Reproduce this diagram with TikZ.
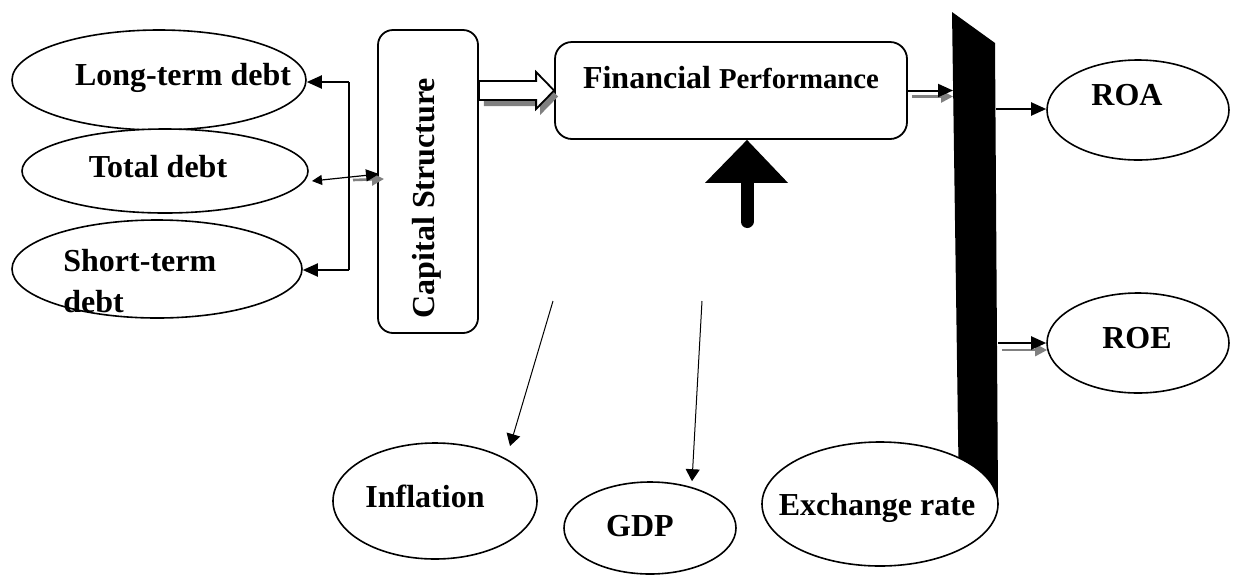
\documentclass[tikz,border=0pt]{standalone}
\usepackage{fontspec}
\setmainfont{Liberation Serif}
\usetikzlibrary{arrows.meta,shapes.geometric,calc}
\definecolor{shadowgray}{RGB}{128,128,128}
\tikzset{
  ell/.style={draw, ellipse, line width=0.8pt, inner sep=0pt, fill=white},
  rbox/.style={draw, rectangle, line width=0.9pt, inner sep=0pt, fill=white},
  txt/.style={inner sep=0pt, font=\fontsize{16pt}{20.5pt}\selectfont\bfseries},
  conn/.style={line width=1pt, -{Triangle[length=7.5pt,width=6.5pt]}},
  thin/.style={line width=0.5pt, -{Triangle[length=6pt,width=7pt]}},
  shadowarr/.style={shadowgray, line width=1.3pt, -{Triangle[length=6pt,width=6pt]}},
}
\newcommand\blockarrowpath[2]{($(#1)+(0,-9.5)$) -- ($(#2)+(-18,-9.5)$) -- ($(#2)+(-18,-18.5)$) -- (#2) -- ($(#2)+(-18,18.5)$) -- ($(#2)+(-18,9.5)$) -- ($(#1)+(0,9.5)$) -- cycle}
\begin{document}
\begin{tikzpicture}[x=0.5pt,y=-0.5pt]
\useasboundingbox (0,0) rectangle (1237,574);
% slanted black bar
\fill[black] (952,12) -- (995,43) -- (998,500) -- (959,500) -- cycle;
\coordinate (barL) at (953,91);
\coordinate (barR1) at (996,109);
\coordinate (barR2) at (998,343);

% left ellipses
\node[ell, minimum width=147pt, minimum height=50pt] (ltd) at (159,80) {};
\node[ell, minimum width=143pt, minimum height=42pt] (td) at (165,171) {};
\node[ell, minimum width=145pt, minimum height=49pt] (std) at (157,269) {};
\node[txt, anchor=base] (ltdt) at (183,85) {Long-term debt};
\node[txt, anchor=base] (tdt) at (158,177) {Total debt};
\node[txt, anchor=west, align=left] (stdt) at (63,281) {Short-term\\debt};

% boxes
\node[rbox, rounded corners=7.5pt, minimum width=50pt, minimum height=151.5pt] (cs) at (428,181.5) {};
\node[txt, rotate=90, anchor=base] (cst) at (434,198) {Capital Structure};
\node[rbox, rounded corners=8.5pt, minimum width=176pt, minimum height=48.5pt] (fp) at (731,90.5) {};
\node[txt, anchor=base] (fpt) at (731,88) {Financial {\fontsize{14.4pt}{17pt}\selectfont Performance}};

% right ellipses
\node[ell, minimum width=91pt, minimum height=50pt] (roa) at (1138,110) {};
\node[txt, anchor=base] (roat) at (1127,105) {ROA};
\node[ell, minimum width=91pt, minimum height=50pt] (roe) at (1138,343) {};
\node[txt, anchor=base] (roet) at (1137,348) {ROE};

% bottom ellipses
\node[ell, minimum width=102pt, minimum height=58pt] (inf) at (435,501) {};
\node[txt, anchor=base] (inft) at (425,507) {Inflation};
\node[ell, minimum width=86pt, minimum height=46pt] (gdp) at (650,528) {};
\node[txt, anchor=base] (gdpt) at (640,536) {GDP};
\node[ell, minimum width=118pt, minimum height=62pt] (exr) at (880,504) {};
\node[txt, anchor=base] (exrt) at (877,515) {Exchange rate};

% bracket from capital structure to the debt measures
\coordinate (b1) at (349,82);
\coordinate (b2) at (349,270);
\draw[line width=1pt] (b1) -- (b2);
\draw[conn] (b1) -- (b1 -| ltd.east);
\draw[conn] (b2) -- (b2 -| std.east);
\coordinate (tdl) at (312,181);
\coordinate (tdr) at (379,174);
\draw[shadowarr] (353,180) -- (384,179);
\draw[line width=0.6pt, {Triangle[length=5pt,width=5pt]}-{Triangle[length=6.5pt,width=6pt]}] (tdl) -- (tdr);

% block arrow capital structure -> financial performance
\coordinate (ba) at (cs.east |- fp.west);
\coordinate (bas) at ($(ba)+(5,6)$);
\coordinate (bts) at ($(fp.west)+(4,6)$);
\fill[shadowgray] \blockarrowpath{bas}{bts};
\filldraw[fill=white, draw=black, line width=0.9pt, line join=miter] \blockarrowpath{ba}{fp.west};

% financial performance -> bar
\draw[shadowarr] ($(fp.east)+(4,6)$) -- ($(fp.east -| barL)+(0,6)$);
\draw[conn] (fp.east) -- (fp.east -| barL);

% bar -> ROA / ROE
\draw[conn] (barR1) -- (barR1 -| roa.west);
\draw[shadowarr] ($(barR2)+(4,7)$) -- ($(roe.west)+(1,7)$);
\draw[conn] (barR2) -- (roe.west);

% big up arrow
\coordinate (up) at (747,221.5);
\coordinate (uptip) at (fp.south -| up);
\draw[line width=6.5pt, line cap=round] (up) -- ($(uptip)+(0,40)$);
\fill (uptip) -- ($(uptip)+(41,43)$) -- ($(uptip)+(-42,43)$) -- cycle;

% thin arrows to inflation and GDP
\coordinate (i0) at (553,301);
\coordinate (g0) at (702,301);
\draw[thin] (i0) -- (510,446);
\draw[thin] (g0) -- (gdp.north -| 692,0);
\end{tikzpicture}
\end{document}
